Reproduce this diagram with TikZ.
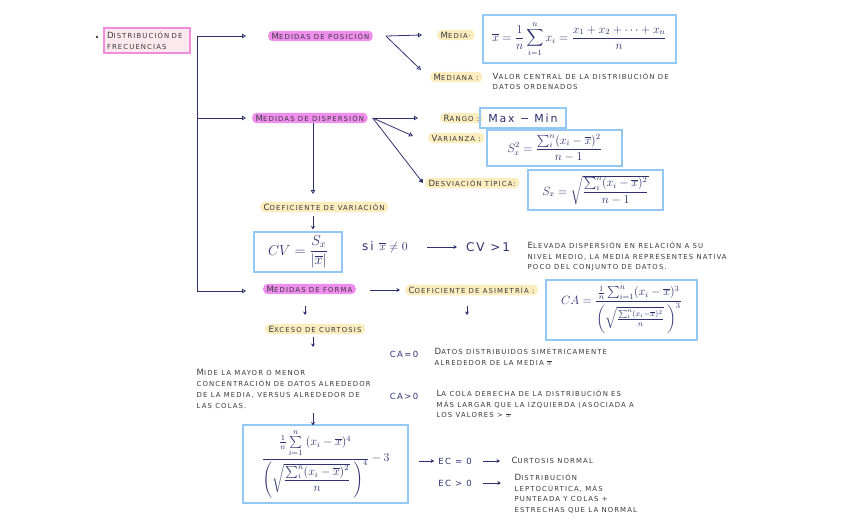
\documentclass[tikz,border=0pt]{standalone}
\usepackage{fontspec}
\usepackage{amsmath}
\setmainfont[LetterSpace=16]{DejaVu Sans}
\usetikzlibrary{arrows.meta}
\definecolor{ink}{HTML}{3A3A40}
\definecolor{navy}{HTML}{2E3170}
\definecolor{mag}{HTML}{F08EEE}
\definecolor{yel}{HTML}{FBEDBE}
\definecolor{bluebd}{HTML}{93C8F2}
\definecolor{pinkbd}{HTML}{F28CDC}
\definecolor{pinkfill}{HTML}{FCE9EE}
\newcommand\hw[2]{{\fontsize{8.6}{9}\selectfont #1}#2}
\tikzset{
  lab/.style={font=\fontsize{6.9}{10.9}\selectfont, text=ink, inner sep=1.5pt, align=left},
  magpill/.style={lab, fill=mag, rounded corners=4.5pt, inner xsep=3.5pt, inner ysep=2pt},
  yelpill/.style={lab, fill=yel, rounded corners=4.5pt, inner xsep=3.5pt, inner ysep=2pt},
  fbox/.style={draw=bluebd, line width=1.1pt, text=navy, inner sep=2pt},
  hand/.style={font=\fontsize{8.5}{10}\selectfont, text=navy, inner sep=1pt},
  arr/.style={draw=navy, line width=0.8pt, -{Triangle[open,length=4pt,width=4.5pt]}},
  arrf/.style={draw=navy, line width=0.8pt, -{Triangle[length=4pt,width=4.5pt]}},
  sarr/.style={draw=navy, line width=0.8pt, -{Stealth[length=3.5pt,width=4pt]}},
  ln/.style={draw=navy, line width=0.8pt},
}
\begin{document}
\begin{tikzpicture}[x=1pt,y=-1pt]
\useasboundingbox (0,0) rectangle (848,530);
% root
\fill[ink] (97,37) circle (1.3);
\node[lab, draw=pinkbd, fill=pinkfill, line width=1.1pt, minimum width=86pt, minimum height=25pt, text width=80pt, inner xsep=2pt] (dist) at (147,40.5) {\hw{D}{ISTRIBUCIÓN DE}\\FRECUENCIAS};
\coordinate (s1) at (197,36);
\coordinate (s3) at (197,291);
\node[magpill, anchor=west] (pos) at (268,36) {\hw{M}{EDIDAS DE POSICIÓN}};
\node[magpill, anchor=west] (disp) at (252,118) {\hw{M}{EDIDAS DE DISPERSIÓN}};
\node[magpill, anchor=west] (forma) at (263,289) {\hw{M}{EDIDAS DE FORMA}};
\draw[ln] (s1) -- (s3);
\draw[arr] (s1) -- ([xshift=-22pt]pos.west);
\draw[arr] (s1 |- disp) -- ([xshift=-6pt]disp.west);
\draw[arr] (s3) -- ([xshift=-17pt]forma.west |- s3);
% posicion
\node[yelpill, anchor=west] (media) at (437,35) {\hw{M}{EDIA·}};
\node[yelpill, anchor=west] (mediana) at (430,77) {\hw{M}{EDIANA :}};
\node[fbox, minimum width=193pt, minimum height=48pt] (mediabox) at (579.5,39)
  {\large$\overline{x}=\dfrac{1}{n}\displaystyle\sum_{i=1}^{n} x_i=\frac{x_1+x_2+\dots+x_n}{n}$};
\node[lab, anchor=north west] (medianatxt) at (491,71) {\hw{V}{ALOR CENTRAL DE LA DISTRIBUCIÓN DE}\\DATOS ORDENADOS};
\coordinate (p0) at ([xshift=13pt]pos.east);
\draw[arr] (p0) -- ([xshift=-15pt]media.west);
\draw[arr] (p0) -- ([xshift=-9pt,yshift=7pt]mediana.west);
% dispersion
\node[yelpill, anchor=west] (rango) at (440,118) {\hw{R}{ANGO :}};
\node[yelpill, anchor=west] (varianza) at (428,138) {\hw{V}{ARIANZA :}};
\node[yelpill, anchor=west] (desv) at (425,183) {\hw{D}{ESVIACIÓN TÍPICA:}};
\node[fbox, minimum width=86pt, minimum height=20pt, font=\fontsize{11}{12}\selectfont] (rangobox) at (523,118) {Max − Min};
\node[fbox, minimum width=135pt, minimum height=36pt] (varbox) at (554.5,148)
  {\large$S_x^2=\dfrac{\sum_i^n (x_i-\overline{x})^2}{n-1}$};
\node[fbox, minimum width=135pt, minimum height=40pt] (desvbox) at (595.5,190)
  {\large$S_x=\sqrt{\dfrac{\sum_i^n (x_i-\overline{x})^2}{n-1}}$};
\coordinate (d0) at ([xshift=5pt]disp.east);
\draw[arr] (d0) -- ([xshift=-22pt]rango.west);
\draw[arr] (d0) -- ([xshift=-15pt,yshift=2pt]varianza.west);
\draw[arrf] (d0) -- ([xshift=-2pt]desv.west);
% coef variacion
\node[yelpill, anchor=west] (cvar) at (260,207) {\hw{C}{OEFICIENTE DE VARIACIÓN}};
\coordinate (v0) at (313,133);
\coordinate (v1) at (313,194);
\draw[ln] (disp.south -| v0) -- (v0);
\draw[arr] (v0) -- (v1);
\node[fbox, minimum width=88pt, minimum height=40pt] (cvbox) at (298,252)
  {\Large$CV=\dfrac{S_x}{|\overline{x}|}$};
\coordinate (v2) at (313,216);
\draw[sarr] (v2) -- ([yshift=2pt]cvbox.north -| v2);
\node[hand] (si) at (385,247) {\large si $\overline{x}\neq 0$};
\node[hand] (cvgt) at (488,247) {\large CV >1};
\draw[sarr] ([xshift=18pt]si.east) -- ([xshift=-8pt]cvgt.west);
\node[lab, anchor=north west] (elev) at (526,240) {\hw{E}{LEVADA DISPERSIÓN EN RELACIÓN A SU}\\NIVEL MEDIO, LA MEDIA REPRESENTES NATIVA\\POCO DEL CONJUNTO DE DATOS.};
% forma
\node[yelpill, anchor=west] (asim) at (405,290) {\hw{C}{OEFICIENTE DE ASIMETRÍA :}};
\draw[sarr] ([xshift=14pt]forma.east |- asim.west) -- ([xshift=-5pt]asim.west);
\node[fbox, minimum width=151pt, minimum height=60pt] (cabox) at (621.5,310)
  {\large$CA=\dfrac{\frac{1}{n}\sum_{i=1}^{n}(x_i-\overline{x})^3}{\left(\sqrt{\frac{\sum_i^n (x_i-\overline{x})^2}{n}}\;\right)^{3}}$};
\node[yelpill, anchor=west] (exc) at (265,329) {\hw{E}{XCESO DE CURTOSIS}};
\coordinate (f1) at (305,306);
\coordinate (f2) at (467,306);
\draw[sarr] (f1) -- ([yshift=-9pt]f1);
\draw[sarr] (f2) -- ([yshift=-9pt]f2);
\node[hand] (ca0) at (404,354) {CA=0};
\node[lab, anchor=north west] (ca0txt) at (433,346) {\hw{D}{ATOS DISTRIBUIDOS SIMÉTRICAMENTE}\\ALREDEDOR DE LA MEDIA $\overline{x}$};
\node[hand] (cagt) at (404,396) {CA>0};
\node[lab, anchor=north west] (cagttxt) at (435,388) {\hw{L}{A COLA DERECHA DE LA DISTRIBUCIÓN ES}\\MÁS LARGAR QUE LA IZQUIERDA (ASOCIADA A\\LOS VALORES > $\overline{x}$};
\node[lab, anchor=north west] (mide) at (195,368) {\hw{M}{IDE LA MAYOR O MENOR}\\CONCENTRACIÓN DE DATOS ALREDEDOR\\DE LA MEDIA, VERSUS ALREDEDOR DE\\LAS COLAS.};
\coordinate (e1) at (313,337);
\draw[sarr] (e1) -- ([yshift=-10pt]e1);
\node[fbox, minimum width=165pt, minimum height=78pt] (kbox) at (325.5,464)
  {\large$\dfrac{\frac{1}{n}\sum\limits_{i=1}^{n}\;(x_i-\overline{x})^4}{\left(\sqrt{\dfrac{\sum_i^n (x_i-\overline{x})^2}{n}}\;\right)^{4}}-3$};
\coordinate (m1) at (313,413);
\draw[sarr] (m1) -- ([yshift=-1pt]kbox.north -| m1);
\node[hand] (ec0) at (455,461) {EC = 0};
\node[hand] (ecgt) at (455,483) {EC > 0};
\node[lab, anchor=west] (normal) at (510,460) {\hw{C}{URTOSIS NORMAL}};
\node[lab, anchor=north west] (lepto) at (513,472) {\hw{D}{ISTRIBUCIÓN}\\LEPTOCÚRTICA, MÁS\\PUNTEADA Y COLAS +\\ESTRECHAS QUE LA NORMAL};
\draw[sarr] ([xshift=10pt]kbox.east |- ec0) -- ([xshift=-3pt]ec0.west);
\draw[sarr] ([xshift=10pt]ec0.east) -- ([xshift=-10pt]normal.west |- ec0);
\draw[sarr] ([xshift=10pt]ecgt.east) -- ([xshift=28pt]ecgt.east);
\end{tikzpicture}
\end{document}
